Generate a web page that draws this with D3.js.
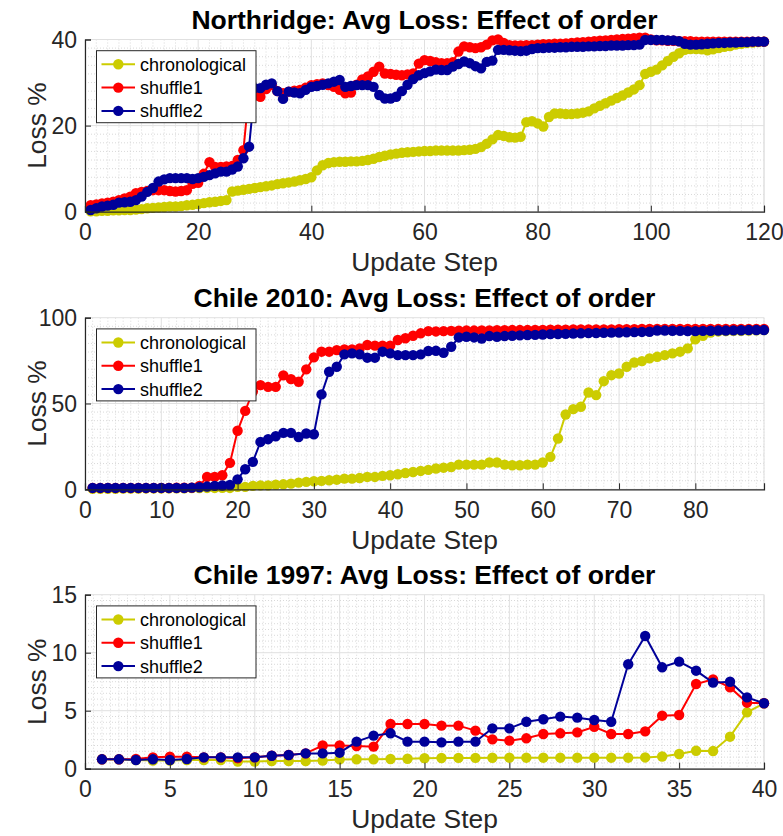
<!DOCTYPE html>
<html>
<head>
<meta charset="utf-8">
<script src="https://cdn.jsdelivr.net/npm/d3@7"></script>
<style>
  body { margin: 0; background: #fff; }
  svg { display: block; }
  text { font-family: "Liberation Sans", Arial, Helvetica, sans-serif; }
</style>
</head>
<body>
<svg id="fig" width="783" height="836"></svg>
<script>
// ---- series names and colours ----
const seriesNames = ["chronological", "shuffle1", "shuffle2"];
const seriesColors = ["#cccc00", "#ff0000", "#000099"];

// ---- Northridge (120 update steps) ----
const northridgeChronological = [
  0.1, 0.1, 0.2, 0.2, 0.3, 0.3, 0.4, 0.4, 0.5, 0.6,
  0.8, 0.9, 1.0, 1.1, 1.2, 1.2, 1.3, 1.5, 1.6, 1.8,
  2.0, 2.2, 2.3, 2.5, 2.7, 4.7, 4.9, 5.1, 5.3, 5.5,
  5.7, 5.9, 6.1, 6.4, 6.6, 6.8, 7.0, 7.3, 7.6, 8.0,
  9.6, 10.8, 11.3, 11.5, 11.6, 11.6, 11.7, 11.7, 11.8, 12.0,
  12.3, 12.7, 13.0, 13.3, 13.5, 13.7, 13.8, 13.9, 14.0, 14.1,
  14.1, 14.2, 14.2, 14.2, 14.2, 14.2, 14.3, 14.4, 14.6, 15.0,
  15.8, 16.8, 17.8, 17.6, 17.3, 17.2, 17.4, 20.8, 21.0, 20.5,
  19.8, 22.0, 22.8, 22.8, 22.7, 22.7, 22.8, 23.0, 23.3, 24.0,
  24.6, 25.2, 25.8, 26.4, 27.0, 27.7, 28.4, 29.4, 32.0, 32.5,
  33.0, 34.0, 35.0, 36.0, 36.8, 37.6, 37.8, 37.8, 37.7, 37.5,
  37.7, 38.0, 38.3, 38.5, 38.8, 39.0, 39.2, 39.3, 39.4, 39.5
];
const northridgeShuffle1 = [
  1.5, 1.7, 1.9, 2.1, 2.3, 2.7, 3.1, 3.5, 4.3, 4.6,
  4.8, 5.0, 5.0, 5.0, 4.8, 4.7, 4.8, 5.0, 6.5, 6.7,
  8.8, 11.5, 10.4, 10.4, 10.5, 10.6, 12.0, 14.3, 28.0, 27.0,
  26.7, 28.5, 29.4, 28.0, 27.5, 27.9, 28.1, 28.3, 28.8, 29.4,
  29.6, 29.8, 29.4, 29.0, 28.3, 27.5, 27.7, 29.5, 30.7, 31.4,
  32.5, 33.7, 32.1, 32.0, 31.8, 31.7, 31.9, 32.1, 34.4, 35.2,
  35.0, 34.7, 34.5, 34.5, 34.7, 37.2, 38.4, 38.2, 38.0, 38.2,
  38.8, 39.8, 40.0, 39.2, 38.7, 38.6, 38.6, 38.7, 38.7, 38.8,
  38.9, 38.9, 39.0, 39.0, 39.1, 39.2, 39.3, 39.4, 39.5, 39.6,
  39.7, 39.8, 39.9, 40.0, 40.1, 40.2, 40.3, 40.4, 40.4, 40.0,
  39.8, 39.8, 39.7, 39.7, 39.6, 39.6, 39.6, 39.5, 39.5, 39.5,
  39.5, 39.5, 39.5, 39.5, 39.5, 39.5, 39.5, 39.5, 39.5, 39.5
];
const northridgeShuffle2 = [
  0.4, 0.8, 1.2, 1.4, 1.6, 2.1, 2.2, 2.3, 2.7, 3.5,
  4.6, 5.5, 7.0, 7.5, 7.8, 7.8, 7.8, 7.8, 7.6, 7.8,
  8.1, 8.5, 8.9, 9.3, 9.3, 9.8, 10.5, 12.4, 15.1, 28.7,
  28.7, 29.5, 29.8, 28.0, 26.2, 27.9, 27.7, 27.5, 28.3, 29.0,
  29.2, 29.5, 29.8, 30.2, 30.6, 29.0, 29.2, 29.4, 29.4, 29.4,
  29.0, 27.1, 26.3, 26.3, 26.7, 28.0, 29.5, 30.8, 31.7, 32.2,
  32.6, 33.0, 32.9, 32.9, 33.7, 34.3, 34.9, 34.5, 33.8, 33.3,
  34.8, 35.1, 37.6, 37.6, 37.5, 37.4, 37.3, 37.4, 37.8, 38.0,
  38.0, 38.1, 38.1, 38.2, 38.2, 38.3, 38.3, 38.3, 38.4, 38.4,
  38.5, 38.5, 38.6, 38.6, 38.6, 38.7, 38.7, 38.8, 39.9, 39.9,
  39.9, 39.9, 39.8, 39.8, 39.6, 39.0, 38.8, 38.8, 38.9, 39.0,
  39.1, 39.2, 39.2, 39.3, 39.3, 39.4, 39.4, 39.5, 39.5, 39.5
];

// ---- Chile 2010 (89 update steps) ----
const chile2010Chronological = [
  0.3, 0.3, 0.3, 0.3, 0.4, 0.4, 0.4, 0.5, 0.5, 0.5,
  0.6, 0.6, 0.6, 0.7, 0.7, 0.8, 0.8, 0.9, 0.8, 1.4,
  1.4, 2.0, 2.3, 2.3, 2.7, 2.9, 3.3, 3.9, 4.3, 4.7,
  4.9, 5.3, 5.6, 6.2, 6.2, 6.6, 7.2, 7.2, 7.8, 8.2,
  8.8, 9.5, 10.1, 10.7, 11.3, 12.1, 12.6, 13.0, 14.4, 14.4,
  14.4, 14.4, 15.6, 15.6, 14.4, 14.0, 14.0, 14.4, 14.4, 15.6,
  18.9, 29.6, 43.6, 46.7, 48.1, 56.4, 54.9, 63.0, 66.5, 67.5,
  71.4, 73.9, 74.7, 76.3, 77.2, 78.2, 79.2, 80.2, 82.1, 87.4,
  89.5, 91.4, 92.0, 92.2, 92.3, 92.4, 92.5, 92.6, 92.8
];
const chile2010Shuffle1 = [
  0.8, 0.8, 0.8, 0.8, 0.8, 0.8, 0.8, 0.8, 0.8, 0.8,
  0.8, 0.9, 0.9, 1.0, 2.0, 7.2, 7.2, 8.2, 15.4, 34.1,
  45.7, 57.0, 60.7, 59.7, 59.7, 66.4, 64.2, 62.7, 69.9, 76.9,
  80.2, 80.2, 81.1, 81.5, 81.5, 82.1, 84.1, 83.7, 83.7, 83.7,
  87.0, 88.0, 89.5, 90.9, 92.2, 92.0, 92.2, 92.3, 92.4, 92.5,
  92.5, 92.6, 92.6, 92.7, 92.7, 92.8, 92.8, 92.8, 92.9, 92.9,
  93.0, 93.0, 93.0, 93.1, 93.1, 93.1, 93.2, 93.2, 93.2, 93.3,
  93.3, 93.3, 93.4, 93.4, 93.4, 93.4, 93.5, 93.5, 93.5, 93.5,
  93.5, 93.5, 93.5, 93.5, 93.5, 93.5, 93.5, 93.4, 93.4
];
const chile2010Shuffle2 = [
  0.8, 0.8, 0.8, 0.8, 0.8, 0.8, 0.8, 0.8, 0.8, 0.8,
  0.8, 0.8, 0.8, 1.0, 1.2, 1.6, 2.0, 2.2, 2.5, 5.8,
  11.7, 16.0, 27.6, 29.2, 30.9, 32.9, 32.9, 30.5, 32.5, 32.1,
  55.3, 68.5, 71.4, 78.6, 79.2, 78.6, 76.7, 76.7, 80.2, 79.2,
  78.2, 78.2, 78.2, 78.6, 80.6, 80.7, 79.6, 83.1, 88.5, 88.9,
  88.5, 87.9, 89.3, 88.9, 89.3, 89.5, 89.7, 89.9, 90.0, 90.2,
  90.4, 90.5, 90.6, 90.8, 90.9, 91.0, 91.1, 91.2, 91.3, 91.4,
  91.5, 91.6, 91.7, 91.8, 92.5, 92.5, 92.4, 92.3, 92.2, 92.2,
  92.3, 92.4, 92.5, 92.5, 92.6, 92.7, 92.8, 92.8, 92.8
];

// ---- Chile 1997 (40 update steps) ----
const chile1997Chronological = [
  0.81, 0.80, 0.75, 0.70, 0.70, 0.75, 0.75, 0.75, 0.62, 0.62,
  0.66, 0.66, 0.66, 0.70, 0.80, 0.81, 0.81, 0.84, 0.86, 0.90,
  0.92, 0.93, 0.93, 0.94, 0.95, 0.95, 0.95, 0.95, 0.95, 0.95,
  0.95, 0.95, 0.97, 1.05, 1.27, 1.55, 1.52, 2.76, 4.86, 5.64
];
const chile1997Shuffle1 = [
  0.81, 0.81, 0.84, 0.98, 1.04, 1.04, 0.98, 0.98, 0.90, 0.98,
  1.12, 1.18, 1.32, 2.00, 2.00, 1.95, 1.90, 3.85, 3.85, 3.85,
  3.71, 3.71, 3.28, 2.53, 2.42, 2.62, 2.99, 3.05, 3.13, 3.62,
  2.99, 2.99, 3.22, 4.57, 4.63, 7.30, 7.70, 7.01, 5.69, 5.64
];
const chile1997Shuffle2 = [
  0.81, 0.81, 0.75, 0.81, 0.75, 0.84, 0.98, 0.98, 0.98, 0.98,
  1.12, 1.18, 1.32, 1.32, 1.38, 2.33, 2.85, 3.05, 2.33, 2.33,
  2.27, 2.33, 2.33, 3.48, 3.48, 4.05, 4.26, 4.49, 4.40, 4.20,
  4.05, 9.00, 11.44, 8.74, 9.23, 8.45, 7.42, 7.50, 6.15, 5.64
];

// ---- axis ticks ----
const northridgeXTicks = [0, 20, 40, 60, 80, 100, 120];
const northridgeYTicks = [0, 20, 40];
const chile2010XTicks = [0, 10, 20, 30, 40, 50, 60, 70, 80];
const chile2010YTicks = [0, 50, 100];
const chile1997XTicks = [0, 5, 10, 15, 20, 25, 30, 35, 40];
const chile1997YTicks = [0, 5, 10, 15];

const panelTitles = [
  "Northridge: Avg Loss: Effect of order",
  "Chile 2010: Avg Loss: Effect of order",
  "Chile 1997: Avg Loss: Effect of order"
];
const xLabel = "Update Step";
const yLabel = "Loss %";

// ---- panel layout ----
const panels = [
  { title: panelTitles[0], series: [northridgeChronological, northridgeShuffle1, northridgeShuffle2],
    xDomain: [0, 120], yDomain: [0, 40], xTicks: northridgeXTicks, yTicks: northridgeYTicks,
    xMinor: 2, yMinor: 2, top: 39.5, bottom: 211.7 },
  { title: panelTitles[1], series: [chile2010Chronological, chile2010Shuffle1, chile2010Shuffle2],
    xDomain: [0, 89], yDomain: [0, 100], xTicks: chile2010XTicks, yTicks: chile2010YTicks,
    xMinor: 1, yMinor: 5, top: 317.7, bottom: 489.3 },
  { title: panelTitles[2], series: [chile1997Chronological, chile1997Shuffle1, chile1997Shuffle2],
    xDomain: [0, 40], yDomain: [0, 15], xTicks: chile1997XTicks, yTicks: chile1997YTicks,
    xMinor: 0.5, yMinor: 0.5, top: 594.7, bottom: 768.7 }
];

const left = 85, right = 764;
const axisColor = "#262626";
const svg = d3.select("#fig");

panels.forEach(p => {
  const x = d3.scaleLinear().domain(p.xDomain).range([left, right]);
  const y = d3.scaleLinear().domain(p.yDomain).range([p.bottom, p.top]);
  const g = svg.append("g");

  // minor grid (dotted)
  const eps = 1e-9;
  const xMinorVals = d3.range(p.xDomain[0], p.xDomain[1] + eps, p.xMinor)
    .filter(v => !p.xTicks.some(t => Math.abs(t - v) < eps));
  const yMinorVals = d3.range(p.yDomain[0], p.yDomain[1] + eps, p.yMinor)
    .filter(v => !p.yTicks.some(t => Math.abs(t - v) < eps));
  g.append("g").selectAll("line").data(xMinorVals).join("line")
    .attr("x1", d => x(d)).attr("x2", d => x(d)).attr("y1", p.top).attr("y2", p.bottom)
    .attr("stroke", "#cfcfcf").attr("stroke-width", 0.8).attr("stroke-dasharray", "1,2");
  g.append("g").selectAll("line").data(yMinorVals).join("line")
    .attr("x1", left).attr("x2", right).attr("y1", d => y(d)).attr("y2", d => y(d))
    .attr("stroke", "#cfcfcf").attr("stroke-width", 0.8).attr("stroke-dasharray", "1,2");

  // major grid
  g.append("g").selectAll("line").data(p.xTicks).join("line")
    .attr("x1", d => x(d)).attr("x2", d => x(d)).attr("y1", p.top).attr("y2", p.bottom)
    .attr("stroke", "#e0e0e0").attr("stroke-width", 1);
  g.append("g").selectAll("line").data(p.yTicks).join("line")
    .attr("x1", left).attr("x2", right).attr("y1", d => y(d)).attr("y2", d => y(d))
    .attr("stroke", "#e0e0e0").attr("stroke-width", 1);
  // right edge
  g.append("line").attr("x1", right).attr("x2", right).attr("y1", p.top).attr("y2", p.bottom)
    .attr("stroke", "#e0e0e0").attr("stroke-width", 1);

  // data series
  const line = d3.line().x((d, i) => x(i + 1)).y(d => y(d));
  p.series.forEach((vals, si) => {
    const sg = g.append("g");
    sg.append("path").datum(vals).attr("d", line)
      .attr("fill", "none").attr("stroke", seriesColors[si]).attr("stroke-width", 2);
    sg.selectAll("circle").data(vals).join("circle")
      .attr("cx", (d, i) => x(i + 1)).attr("cy", d => y(d)).attr("r", 5.2)
      .attr("fill", seriesColors[si]);
  });

  // axes
  const xAxis = d3.axisBottom(x).tickValues(p.xTicks).tickSize(-6).tickPadding(10).tickFormat(d3.format("d"));
  const yAxis = d3.axisLeft(y).tickValues(p.yTicks).tickSize(-6).tickPadding(14).tickFormat(d3.format("d"));
  const gx = g.append("g").attr("transform", `translate(0,${p.bottom})`).call(xAxis);
  const gy = g.append("g").attr("transform", `translate(${left},0)`).call(yAxis);
  [gx, gy].forEach(ax => {
    ax.select(".domain").attr("stroke", axisColor).attr("stroke-width", 1.2);
    ax.selectAll(".tick line").attr("stroke", axisColor).attr("stroke-width", 1);
    ax.selectAll(".tick text").attr("fill", axisColor)
      .style("font-size", "23px").style("font-family", '"Liberation Sans", Arial, sans-serif');
  });
  gx.selectAll(".tick text").attr("dy", null).attr("y", 28.5).attr("dominant-baseline", "auto");
  gy.selectAll(".tick text").attr("dy", "0.35em").attr("x", -8);

  // title and labels
  g.append("text").attr("x", (left + right) / 2).attr("y", p.top - 11)
    .attr("text-anchor", "middle").style("font-size", "26.5px").style("font-weight", "bold")
    .attr("fill", "#000").text(p.title);
  g.append("text").attr("x", (left + right) / 2).attr("y", p.bottom + 59.5)
    .attr("text-anchor", "middle").style("font-size", "26.4px").attr("fill", axisColor).text(xLabel);
  g.append("text").attr("transform", `translate(46,${(p.top + p.bottom) / 2}) rotate(-90)`)
    .attr("text-anchor", "middle").style("font-size", "26.4px").attr("fill", axisColor).text(yLabel);

  // legend
  const lx = 96.5, ly = p.top + 11.2, lw = 159.5, lh = 72;
  const lg = g.append("g");
  lg.append("rect").attr("x", lx).attr("y", ly).attr("width", lw).attr("height", lh)
    .attr("fill", "#fff").attr("stroke", axisColor).attr("stroke-width", 1);
  seriesNames.forEach((name, si) => {
    const cy = ly + 13.6 + si * 23.3;
    lg.append("line").attr("x1", lx + 5).attr("x2", lx + 38.5).attr("y1", cy).attr("y2", cy)
      .attr("stroke", seriesColors[si]).attr("stroke-width", 2);
    lg.append("circle").attr("cx", lx + 21.8).attr("cy", cy).attr("r", 5.2).attr("fill", seriesColors[si]);
    lg.append("text").attr("x", lx + 43.5).attr("y", cy + 6.4).style("font-size", "18px")
      .attr("fill", "#000").text(name);
  });
});
</script>
</body>
</html>
